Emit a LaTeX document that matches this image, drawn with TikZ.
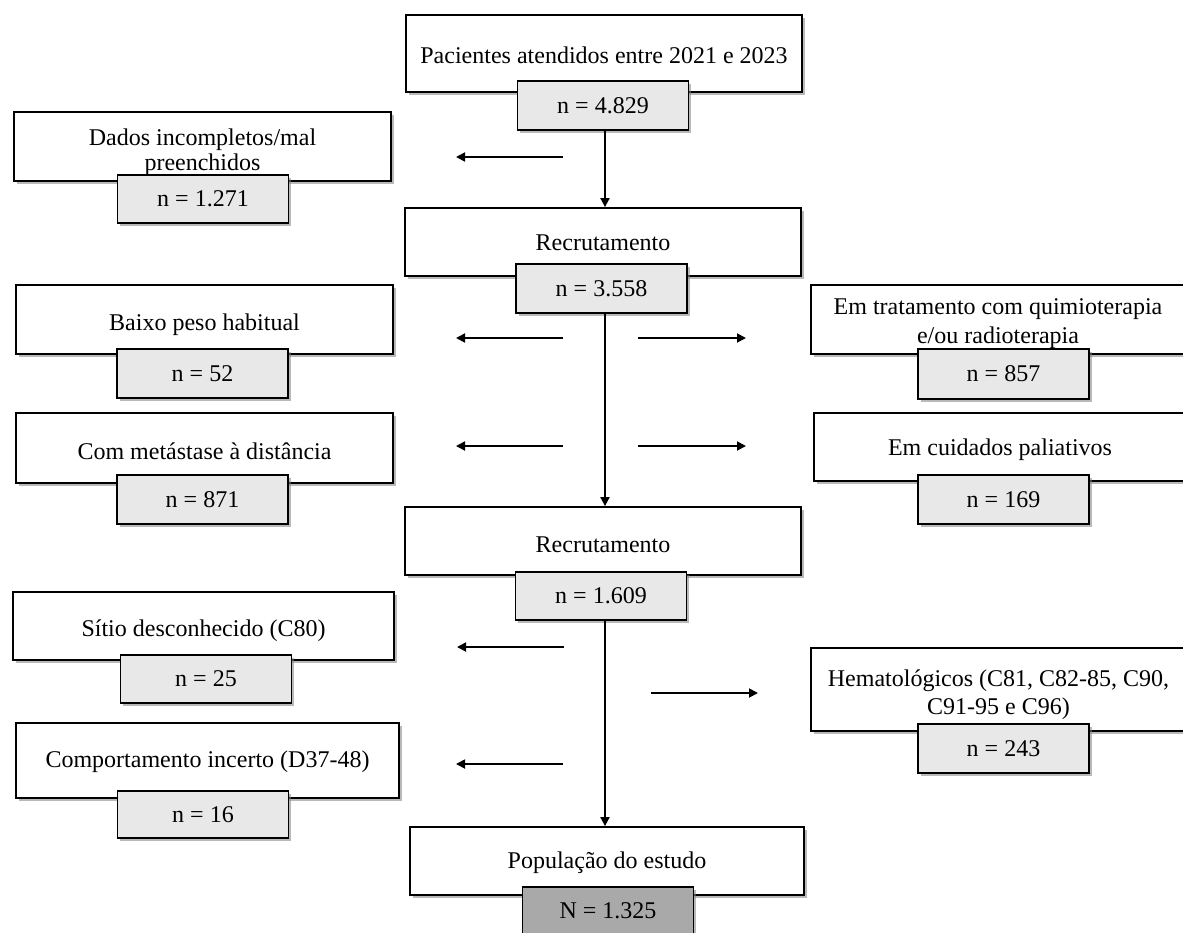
\documentclass[tikz,border=0pt]{standalone}
\usepackage{fontspec}
\setmainfont{Liberation Serif}
\usetikzlibrary{shadows,arrows.meta}
\definecolor{nfill}{HTML}{E8E8E8}
\definecolor{Nfill}{HTML}{A9A9A9}
\tikzset{
  shad/.style={drop shadow={shadow xshift=2.5pt,shadow yshift=-2.5pt,fill=black!50,opacity=0.55}},
  bigbox/.style={draw=black,line width=1.8pt,fill=white,shad,inner sep=0pt},
  lbl/.style={align=center,inner sep=0pt,font=\fontsize{24}{28.5}\selectfont},
  nbox/.style={draw=black,line width=1.8pt,fill=nfill,shad,minimum width=171pt,minimum height=49pt,
    inner sep=0pt,font=\fontsize{24}{28.5}\selectfont},
  arr/.style={line width=1.8pt,-{Triangle[length=9pt,width=9pt]}},
}
\begin{document}
\begin{tikzpicture}[x=1pt,y=-1pt]
\useasboundingbox (0,0) rectangle (1183,932);

% main column
\node[bigbox,minimum width=396pt,minimum height=77pt,
  label={[lbl,yshift=-1.5pt]center:Pacientes atendidos entre 2021 e 2023}] (p) at (604,53.5) {};
\node[nbox] (pn) at (603,105.5) {n = 4.829};

\node[bigbox,minimum width=396pt,minimum height=68pt,
  label={[lbl,yshift=-1pt]center:Recrutamento}] (r1) at (603,242) {};
\node[nbox] (r1n) at (601.5,288.5) {n = 3.558};

\node[bigbox,minimum width=396pt,minimum height=68pt,
  label={[lbl,yshift=-4pt]center:Recrutamento}] (r2) at (603,541) {};
\node[nbox,minimum height=48pt] (r2n) at (601,596) {n = 1.609};

\node[bigbox,minimum width=394pt,minimum height=68pt,
  label={[lbl,yshift=-2pt]center:População do estudo}] (po) at (607,861) {};
\node[nbox,fill=Nfill,minimum height=48pt] (pon) at (608,911) {N = 1.325};

% left column
\node[bigbox,minimum width=377pt,minimum height=69pt,
  label={[lbl,font=\fontsize{24}{25}\selectfont,yshift=-6pt]center:Dados incompletos/mal\\preenchidos}] (d) at (202.5,146.5) {};
\node[nbox,minimum height=48pt] (dn) at (203,199) {n = 1.271};

\node[bigbox,minimum width=377pt,minimum height=69pt,
  label={[lbl,yshift=-5pt]center:Baixo peso habitual}] (b) at (204.5,319.5) {};
\node[nbox] (bn) at (202.5,373.5) {n = 52};

\node[bigbox,minimum width=377pt,minimum height=70pt,
  label={[lbl,yshift=-3pt]center:Com metástase à distância}] (m) at (204.5,448) {};
\node[nbox] (mn) at (202.5,499.5) {n = 871};

\node[bigbox,minimum width=381pt,minimum height=68pt,
  label={[lbl,yshift=-5pt]center:Sítio desconhecido (C80)}] (s) at (203.5,626) {};
\node[nbox,minimum height=48pt] (sn) at (206,679) {n = 25};

\node[bigbox,minimum width=383pt,minimum height=75pt,
  label={[lbl,yshift=-1.5pt]center:Comportamento incerto (D37-48)}] (co) at (207.5,760.5) {};
\node[nbox,minimum height=47pt] (con) at (203,814.5) {n = 16};

% right column
\node[bigbox,minimum width=374pt,minimum height=69pt,
  label={[lbl,yshift=-4pt]center:Em tratamento com quimioterapia\\e/ou radioterapia}] (t) at (998,319.5) {};
\node[nbox,minimum height=50pt] (tn) at (1003.5,374) {n = 857};

\node[bigbox,minimum width=372pt,minimum height=68pt,
  label={[lbl,yshift=-3pt]center:Em cuidados paliativos}] (c) at (1000,447) {};
\node[nbox] (cn) at (1003.5,499.5) {n = 169};

\node[bigbox,minimum width=375pt,minimum height=83pt,
  label={[lbl,yshift=-5pt]center:Hematológicos (C81, C82-85, C90,\\C91-95 e C96)}] (h) at (998.5,689.5) {};
\node[nbox] (hn) at (1003.5,748.5) {n = 243};

% main connectors
\draw[arr] ([xshift=2pt]pn.south) -- ([xshift=2pt]pn.south |- r1.north);
\draw[arr] ([xshift=3.5pt]r1n.south) -- ([xshift=3.5pt]r1n.south |- r2.north);
\draw[arr] ([xshift=4pt]r2n.south) -- ([xshift=4pt]r2n.south |- po.north);

% exclusion arrows (free-standing)
\coordinate (l0s) at (563,157); \coordinate (l0e) at (456,157);
\coordinate (l1s) at (563,338); \coordinate (l1e) at (456,338);
\coordinate (r1s) at (638,338); \coordinate (r1e) at (746,338);
\coordinate (l2s) at (563,446); \coordinate (l2e) at (456,446);
\coordinate (r2s) at (638,446); \coordinate (r2e) at (746,446);
\coordinate (l3s) at (564,647); \coordinate (l3e) at (457,647);
\coordinate (r3s) at (651,693); \coordinate (r3e) at (758,693);
\coordinate (l4s) at (563,764); \coordinate (l4e) at (456,764);
\draw[arr] (l0s) -- (l0e);
\draw[arr] (l1s) -- (l1e);
\draw[arr] (r1s) -- (r1e);
\draw[arr] (l2s) -- (l2e);
\draw[arr] (r2s) -- (r2e);
\draw[arr] (l3s) -- (l3e);
\draw[arr] (r3s) -- (r3e);
\draw[arr] (l4s) -- (l4e);
\end{tikzpicture}
\end{document}
